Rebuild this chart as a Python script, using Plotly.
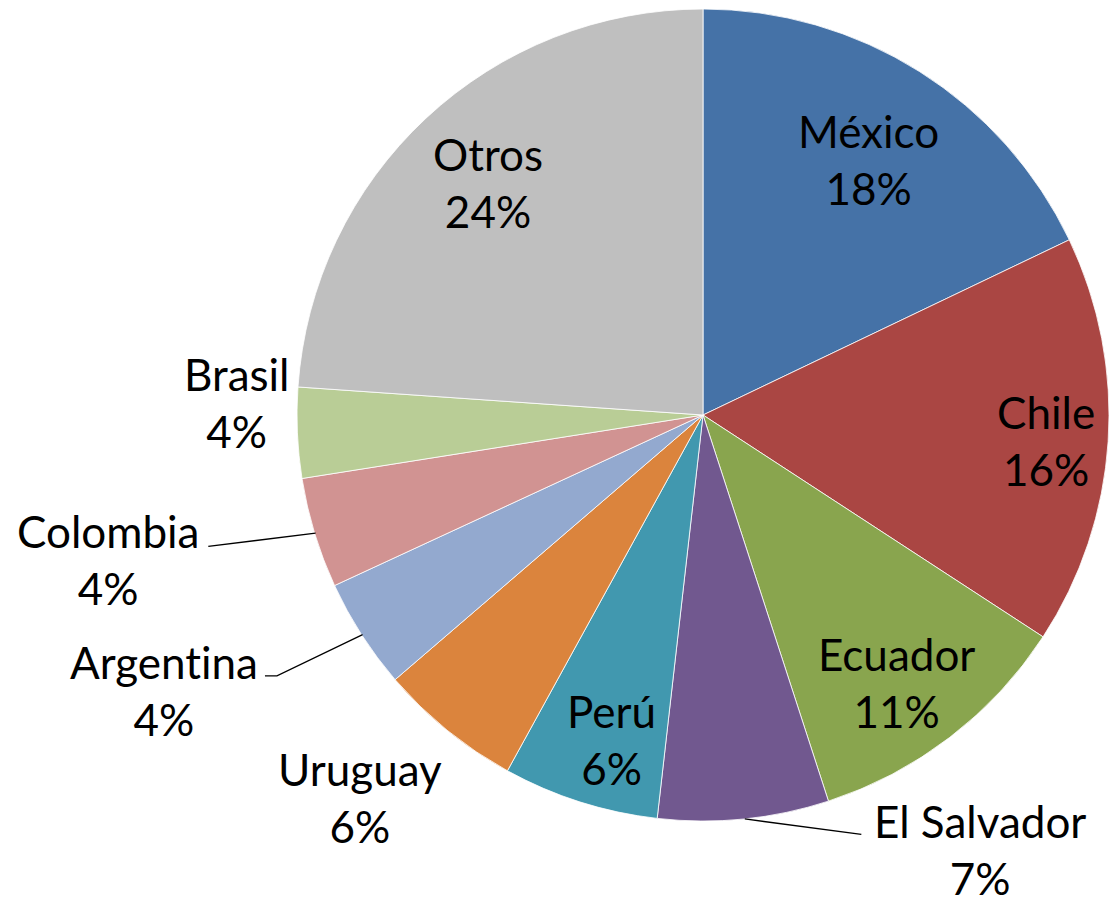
import math
import plotly.graph_objects as go

# ---- data ----
countries = ["México", "Chile", "Ecuador", "El Salvador", "Perú", "Uruguay",
             "Argentina", "Colombia", "Brasil", "Otros"]
shares = [17.9, 16.3, 10.8, 6.8, 6.2, 5.7, 4.4, 4.4, 3.6, 23.9]
colors = ["#4572A7", "#AA4643", "#89A54E", "#71588F", "#4198AF", "#DB843D",
          "#93A9CF", "#D19392", "#B9CD96", "#BFBFBF"]

# ---- layout geometry ----
W, H = 1109, 898
CX, CY, R = 704, 415, 407
FONT = dict(family="Lato, 'Open Sans', sans-serif", size=44, color="black")

# label placement: (radial factor, angle offset deg)
label_place = {
    "México": (0.747, 0.5), "Chile": (0.843, 0.5), "Ecuador": (0.81, 1.8),
    "El Salvador": (1.265, -26.7), "Perú": (0.83, -1.7), "Uruguay": (1.263, 2.9),
    "Argentina": (1.49, 5.7), "Colombia": (1.506, 3.3), "Brasil": (1.148, 4.1),
    "Otros": (0.78, 0.1),
}
# leader lines: points relative to label centre (px)
leaders = {
    "El Salvador": [(-119, -15)],
    "Argentina": [(113, -15), (101, -15)],
    "Colombia": [(100, -13)],
}


def px2paper(x, y):
    return x / W, 1 - y / H


def display(name):
    # break the Lato "ti" ligature without altering the visible text
    return name.replace("ti", "t\u200ci")


total = sum(shares)
fig = go.Figure(go.Pie(
    labels=countries, values=shares, sort=False, direction="clockwise", rotation=0,
    marker=dict(colors=colors, line=dict(color="white", width=0.8)),
    textinfo="none", hoverinfo="label+percent", showlegend=False,
    domain=dict(x=[(CX - R) / W, 1.0], y=[1 - (CY + R) / H, 1 - (CY - R) / H]),
))

annotations = []
shapes = []
cum = 0.0
for name, v in zip(countries, shares):
    a0 = cum / total * 360
    cum += v
    a1 = cum / total * 360
    mid = (a0 + a1) / 2
    k, dth = label_place[name]
    ang = math.radians(mid + dth)
    lx = CX + k * R * math.sin(ang)
    ly = CY - k * R * math.cos(ang)
    pct = round(v / total * 100)
    px_, py_ = px2paper(lx, ly)
    annotations.append(dict(x=px_, y=py_, xref="paper", yref="paper",
                            text=f"{display(name)}<br>{pct}%", showarrow=False,
                            font=FONT, xanchor="center", yanchor="middle"))
    if name in leaders:
        m = math.radians(mid)
        pts = [(CX + (R - 1) * math.sin(m), CY - (R - 1) * math.cos(m))]
        pts += [(lx + dx, ly + dy) for dx, dy in leaders[name]]
        path = "M " + " L ".join(f"{px2paper(x, y)[0]},{px2paper(x, y)[1]}" for x, y in pts)
        shapes.append(dict(type="path", xref="paper", yref="paper", path=path,
                           line=dict(color="black", width=1.3)))

fig.update_layout(
    width=W, height=H, margin=dict(l=0, r=0, t=0, b=0),
    paper_bgcolor="white", plot_bgcolor="white",
    annotations=annotations, shapes=shapes,
)
fig.write_html("out.html", config={"displayModeBar": False},
               post_script="document.body.style.margin='0';document.body.style.overflow='hidden';")
